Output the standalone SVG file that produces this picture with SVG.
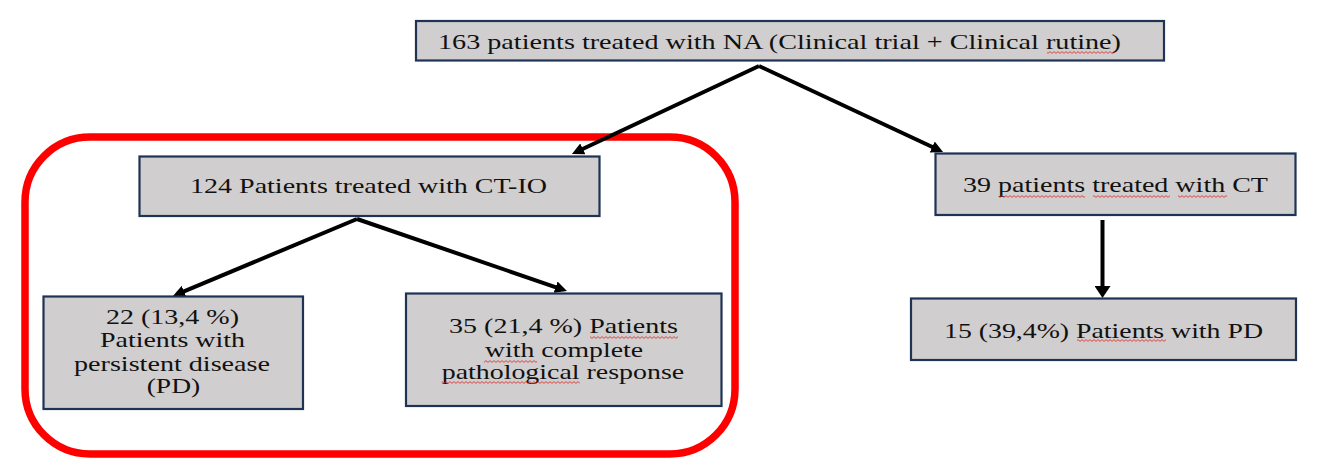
<svg xmlns="http://www.w3.org/2000/svg" width="1332" height="475" viewBox="0 0 1332 475">
  <style>
    .box { fill: #d0cece; stroke: #1f3354; stroke-width: 2.2; }
    .lbl { font-family: 'Liberation Serif', 'DejaVu Serif', serif; font-size: 21px; fill: #111111; }
    .conn { stroke: #000000; stroke-width: 4; fill: none; }
    .sq { fill: url(#squiggle); }
  </style>
  <defs>
    <marker id="ah" viewBox="0 0 12 12" refX="2" refY="6" markerUnits="userSpaceOnUse" markerWidth="12" markerHeight="12" orient="auto">
      <path d="M0,0 L12,6 L0,12 z" fill="#000000"/>
    </marker>
    <marker id="ahBig" viewBox="0 0 12 16" refX="2" refY="8" markerUnits="userSpaceOnUse" markerWidth="12" markerHeight="16" orient="auto">
      <path d="M0,0 L12,8 L0,16 z" fill="#000000"/>
    </marker>
    <pattern id="squiggle" x="0" y="0" width="4" height="3" patternUnits="userSpaceOnUse">
      <path d="M0,2.4 L2,0.6 L4,2.4" fill="none" stroke="#e02020" stroke-width="0.8"/>
    </pattern>
  </defs>

  <rect id="highlight" x="25" y="137" width="710" height="317" rx="65" ry="65" fill="none" stroke="#ff0000" stroke-width="7.5"/>

  <g id="connectors">
    <path class="conn" d="M759,66 L581,149.7" marker-end="url(#ah)"/>
    <path class="conn" d="M759,66 L934,147.8" marker-end="url(#ah)"/>
    <path class="conn" d="M357,219 L182.2,292.1" marker-end="url(#ah)"/>
    <path class="conn" d="M357,219 L557.5,287.8" marker-end="url(#ah)"/>
    <path class="conn" d="M1102.5,220 L1102.5,288" marker-end="url(#ahBig)"/>
  </g>

  <g id="n-total">
    <rect class="box" x="416" y="21" width="748" height="39.5"/>
    <text class="lbl" font-family="Liberation Serif, serif" x="438" y="48.5" textLength="683" lengthAdjust="spacingAndGlyphs">163 patients treated with NA (Clinical trial + Clinical rutine)</text>
    <rect class="sq" x="1047" y="51" width="68" height="3"/>
  </g>

  <g id="n-ctio">
    <rect class="box" x="139.5" y="156.5" width="460" height="59.5"/>
    <text class="lbl" x="190" y="193.3" textLength="357" lengthAdjust="spacingAndGlyphs">124 Patients treated with CT-IO</text>
  </g>

  <g id="n-ct">
    <rect class="box" x="935.5" y="153.5" width="360" height="61.5"/>
    <text class="lbl" x="963" y="191.7" textLength="305" lengthAdjust="spacingAndGlyphs">39 patients treated with CT</text>
    <rect class="sq" x="999" y="195" width="86" height="3"/>
    <rect class="sq" x="1093" y="195" width="77" height="3"/>
    <rect class="sq" x="1178" y="195" width="49" height="3"/>
  </g>

  <g id="n-pd-ctio">
    <rect class="box" x="43.5" y="296.5" width="259.5" height="112.5"/>
    <text class="lbl" x="106" y="324.3" textLength="133" lengthAdjust="spacingAndGlyphs">22 (13,4 %)</text>
    <text class="lbl" x="100" y="346.7" textLength="145" lengthAdjust="spacingAndGlyphs">Patients with</text>
    <text class="lbl" x="74" y="370.7" textLength="196" lengthAdjust="spacingAndGlyphs">persistent disease</text>
    <text class="lbl" x="146.7" y="393.3" textLength="53.5" lengthAdjust="spacingAndGlyphs">(PD)</text>
  </g>

  <g id="n-pcr">
    <rect class="box" x="406" y="293.5" width="315.5" height="112.5"/>
    <text class="lbl" x="449" y="333" textLength="229" lengthAdjust="spacingAndGlyphs">35 (21,4 %) Patients</text>
    <text class="lbl" x="485" y="356.5" textLength="158" lengthAdjust="spacingAndGlyphs">with complete</text>
    <text class="lbl" x="441.7" y="379.3" textLength="242.5" lengthAdjust="spacingAndGlyphs">pathological response</text>
    <rect class="sq" x="590" y="336" width="88" height="3"/>
    <rect class="sq" x="484" y="360" width="53" height="3"/>
    <rect class="sq" x="441.7" y="381" width="138" height="3"/>
  </g>

  <g id="n-pd-ct">
    <rect class="box" x="911" y="298.5" width="385" height="61.5"/>
    <text class="lbl" x="944" y="337.7" textLength="319" lengthAdjust="spacingAndGlyphs">15 (39,4%) Patients with PD</text>
    <rect class="sq" x="1077" y="339" width="89" height="3"/>
  </g>
</svg>
